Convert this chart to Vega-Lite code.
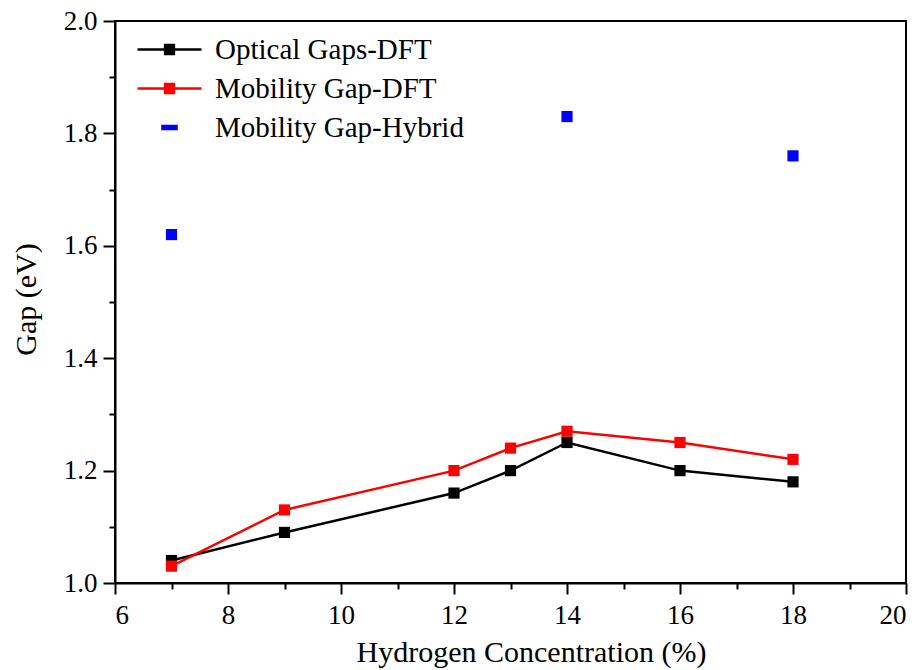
{
  "$schema": "https://vega.github.io/schema/vega-lite/v6.json",
  "width": 791,
  "height": 562,
  "autosize": {"type": "none"},
  "padding": {"left": 115, "top": 21, "right": 17, "bottom": 87},
  "background": "white",
  "config": {
    "font": "Liberation Serif",
    "view": {"stroke": "black", "strokeWidth": 2},
    "axis": {
      "labelFont": "Liberation Serif",
      "labelFontSize": 27,
      "labelColor": "black",
      "titleFont": "Liberation Serif",
      "titleFontSize": 30,
      "titleFontWeight": "normal",
      "titleColor": "black"
    }
  },
  "data": {
    "values": [
      {"h": 7, "gap": 1.04, "series": "Optical Gaps-DFT"},
      {"h": 9, "gap": 1.09, "series": "Optical Gaps-DFT"},
      {"h": 12, "gap": 1.16, "series": "Optical Gaps-DFT"},
      {"h": 13, "gap": 1.20, "series": "Optical Gaps-DFT"},
      {"h": 14, "gap": 1.25, "series": "Optical Gaps-DFT"},
      {"h": 16, "gap": 1.20, "series": "Optical Gaps-DFT"},
      {"h": 18, "gap": 1.18, "series": "Optical Gaps-DFT"},
      {"h": 7, "gap": 1.03, "series": "Mobility Gap-DFT"},
      {"h": 9, "gap": 1.13, "series": "Mobility Gap-DFT"},
      {"h": 12, "gap": 1.20, "series": "Mobility Gap-DFT"},
      {"h": 13, "gap": 1.24, "series": "Mobility Gap-DFT"},
      {"h": 14, "gap": 1.27, "series": "Mobility Gap-DFT"},
      {"h": 16, "gap": 1.25, "series": "Mobility Gap-DFT"},
      {"h": 18, "gap": 1.22, "series": "Mobility Gap-DFT"},
      {"h": 7, "gap": 1.62, "series": "Mobility Gap-Hybrid"},
      {"h": 14, "gap": 1.83, "series": "Mobility Gap-Hybrid"},
      {"h": 18, "gap": 1.76, "series": "Mobility Gap-Hybrid"}
    ]
  },
  "encoding": {
    "x": {
      "field": "h", "type": "quantitative",
      "scale": {"domain": [6, 20], "nice": false, "zero": false},
      "axis": {
        "title": "Hydrogen Concentration (%)",
        "values": [6,7,8,9,10,11,12,13,14,15,16,17,18,19,20],
        "labelExpr": "datum.value % 2 == 0 ? '' + datum.value : ''",
        "grid": false,
        "domainColor": "black", "domainWidth": 2,
        "tickColor": "black", "tickWidth": 2,
        "tickSize": {"condition": {"test": "datum.value % 2 == 0", "value": 11}, "value": 6},
        "labelFont": "Liberation Serif", "labelFontSize": 27, "labelColor": "black",
        "labelPadding": 8,
        "titleX": 416, "titleY": 78, "titleBaseline": "alphabetic"
      }
    },
    "y": {
      "field": "gap", "type": "quantitative",
      "scale": {"domain": [1.0, 2.0], "nice": false, "zero": false},
      "axis": {
        "title": "Gap (eV)",
        "values": [1.0,1.1,1.2,1.3,1.4,1.5,1.6,1.7,1.8,1.9,2.0],
        "labelExpr": "round(datum.value*10) % 2 == 0 ? format(datum.value, '.1f') : ''",
        "grid": false,
        "domainColor": "black", "domainWidth": 2,
        "tickColor": "black", "tickWidth": 2,
        "tickSize": {"condition": {"test": "round(datum.value*10) % 2 == 0", "value": 12}, "value": 6},
        "labelFont": "Liberation Serif", "labelFontSize": 27, "labelColor": "black",
        "labelPadding": 6,
        "titleX": -89, "titleY": 278, "titleBaseline": "middle"
      }
    },
    "color": {
      "field": "series", "type": "nominal",
      "scale": {
        "domain": ["Optical Gaps-DFT", "Mobility Gap-DFT", "Mobility Gap-Hybrid"],
        "range": ["#000000", "#ff0000", "#0000ff"]
      },
      "legend": {
        "title": null,
        "orient": "none",
        "legendX": 33,
        "legendY": 7,
        "padding": 0,
        "rowPadding": 2,
        "symbolSize": 1600,
        "labelFont": "Liberation Serif",
        "labelFontSize": 29,
        "labelColor": "black",
        "labelLimit": 0,
        "labelOffset": 24,
        "labelBaseline": "middle",
        "encode": {
          "symbols": {
            "update": {
              "shape": {"signal": "datum.value === 'Mobility Gap-Hybrid' ? 'M-0.35,-0.08H0.35V0.08H-0.35Z' : 'M-1.6,0H1.6M-0.22,-0.22H0.22V0.22H-0.22Z'"},
              "stroke": {"signal": "datum.value === 'Optical Gaps-DFT' ? '#000000' : datum.value === 'Mobility Gap-DFT' ? '#ff0000' : '#0000ff'"},
              "fill": {"signal": "datum.value === 'Optical Gaps-DFT' ? '#000000' : datum.value === 'Mobility Gap-DFT' ? '#ff0000' : '#0000ff'"},
              "strokeWidth": {"value": 2.5},
              "opacity": {"value": 1},
              "fillOpacity": {"value": 1},
              "strokeOpacity": {"value": 1}
            }
          }
        }
      }
    }
  },
  "layer": [
    {
      "transform": [{"filter": "datum.series !== 'Mobility Gap-Hybrid'"}],
      "mark": {"type": "line", "strokeWidth": 2.5}
    },
    {
      "mark": {"type": "point", "shape": "square", "filled": true, "size": 125, "opacity": 1}
    }
  ]
}
